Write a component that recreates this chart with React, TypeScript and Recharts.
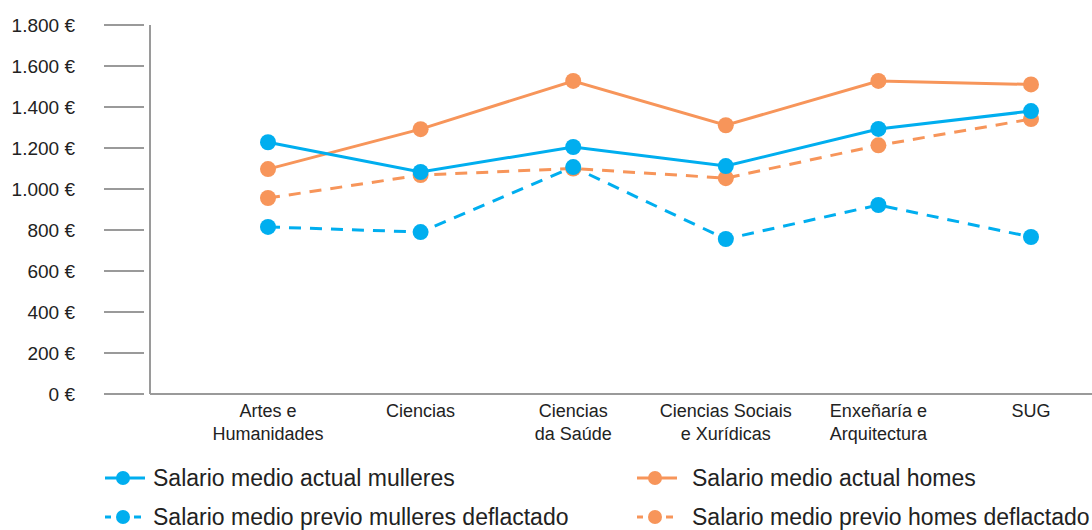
import React from 'react';
import { LineChart, Line, XAxis, YAxis, Legend } from 'recharts';

const categories = [
  'Artes e\nHumanidades',
  'Ciencias',
  'Ciencias\nda Saúde',
  'Ciencias Sociais\ne Xurídicas',
  'Enxeñaría e\nArquitectura',
  'SUG',
];

const mulleresActual = [1228, 1083, 1205, 1112, 1293, 1380];
const homesActual = [1097, 1292, 1527, 1311, 1527, 1510];
const mulleresPrevio = [815, 790, 1107, 756, 922, 766];
const homesPrevio = [956, 1068, 1100, 1053, 1213, 1341];

const yTicks = [0, 200, 400, 600, 800, 1000, 1200, 1400, 1600, 1800];

const BLUE = '#00aeef';
const ORANGE = '#f7955a';
const AXIS = '#9a9a9a';
const TEXT = '#222';
const FONT = '"Liberation Sans", Arial, Helvetica, sans-serif';

const data = categories.map((name, i) => ({
  name,
  mulleresActual: mulleresActual[i],
  homesActual: homesActual[i],
  mulleresPrevio: mulleresPrevio[i],
  homesPrevio: homesPrevio[i],
}));

const legendItems = [
  { label: 'Salario medio actual mulleres', color: BLUE, dashed: false },
  { label: 'Salario medio actual homes', color: ORANGE, dashed: false },
  { label: 'Salario medio previo mulleres deflactado', color: BLUE, dashed: true },
  { label: 'Salario medio previo homes deflactado', color: ORANGE, dashed: true },
];

const formatEuro = (v: number) =>
  `${String(v).replace(/\B(?=(\d{3})+(?!\d))/g, '.')} €`;

const YTick = (props: any) => {
  const { x, y, payload } = props;
  return (
    <g>
      <line x1={x - 40} x2={x} y1={y} y2={y} stroke={AXIS} strokeWidth={2} />
      <text x={x - 69} y={y} dy="0.36em" textAnchor="end" fill={TEXT} fontSize={19} fontFamily={FONT}>
        {formatEuro(payload.value)}
      </text>
    </g>
  );
};

const XTick = (props: any) => {
  const { x, y, payload } = props;
  const lines = String(payload.value).split('\n');
  return (
    <text x={x} y={y} textAnchor="middle" fill={TEXT} fontSize={18} fontFamily={FONT}>
      {lines.map((l, i) => (
        <tspan key={i} x={x} dy={i === 0 ? 15 : 23}>
          {l}
        </tspan>
      ))}
    </text>
  );
};

const LegendIcon = ({ color, dashed }: { color: string; dashed: boolean }) => (
  <svg width={40} height={20} style={{ flex: 'none' }}>
    {dashed ? (
      <>
        <line x1={0} x2={6} y1={10} y2={10} stroke={color} strokeWidth={3} />
        <line x1={29} x2={36} y1={10} y2={10} stroke={color} strokeWidth={3} />
      </>
    ) : (
      <line x1={0} x2={40} y1={10} y2={10} stroke={color} strokeWidth={3} />
    )}
    <circle cx={18} cy={10} r={7} fill={color} />
  </svg>
);

const CustomLegend = () => (
  <div
    style={{
      display: 'grid',
      gridTemplateColumns: '532px 460px',
      rowGap: 17,
      fontFamily: FONT,
      fontSize: 23,
      color: TEXT,
    }}
  >
    {legendItems.map((it, i) => (
      <div key={it.label} style={{ display: 'flex', alignItems: 'center', height: 22 }}>
        <LegendIcon color={it.color} dashed={it.dashed} />
        <span style={{ whiteSpace: 'nowrap', marginLeft: i % 2 === 0 ? 8 : 15 }}>{it.label}</span>
      </div>
    ))}
  </div>
);

export default function App() {
  return (
    <div style={{ position: 'absolute', left: 0, top: 0, width: 1092, height: 530, overflow: 'hidden', background: '#fff' }}>
      <LineChart width={1092} height={530} data={data} margin={{ top: 25, right: 0, left: 0, bottom: 76 }}>
        <XAxis
          dataKey="name"
          axisLine={{ stroke: AXIS, strokeWidth: 2 }}
          tickLine={false}
          tick={<XTick />}
          height={60}
          interval={0}
          padding={{ left: 118, right: 61 }}
        />
        <YAxis
          width={150}
          domain={[0, 1800]}
          ticks={yTicks}
          axisLine={{ stroke: AXIS, strokeWidth: 2 }}
          tickLine={false}
          tickSize={6}
          tickMargin={0}
          tick={<YTick />}
        />
        <Legend
          verticalAlign="middle"
          align="center"
          content={<CustomLegend />}
          wrapperStyle={{ position: 'absolute', top: 467, left: 105, width: 992 }}
        />
        <Line
          dataKey="homesPrevio"
          stroke={ORANGE}
          strokeWidth={3}
          strokeDasharray="12 9"
          dot={{ r: 8, fill: ORANGE, stroke: 'none' }}
          isAnimationActive={false}
        />
        <Line
          dataKey="homesActual"
          stroke={ORANGE}
          strokeWidth={3}
          dot={{ r: 8, fill: ORANGE, stroke: 'none' }}
          isAnimationActive={false}
        />
        <Line
          dataKey="mulleresPrevio"
          stroke={BLUE}
          strokeWidth={3}
          strokeDasharray="12 9"
          dot={{ r: 8, fill: BLUE, stroke: 'none' }}
          isAnimationActive={false}
        />
        <Line
          dataKey="mulleresActual"
          stroke={BLUE}
          strokeWidth={3}
          dot={{ r: 8, fill: BLUE, stroke: 'none' }}
          isAnimationActive={false}
        />
      </LineChart>
    </div>
  );
}
